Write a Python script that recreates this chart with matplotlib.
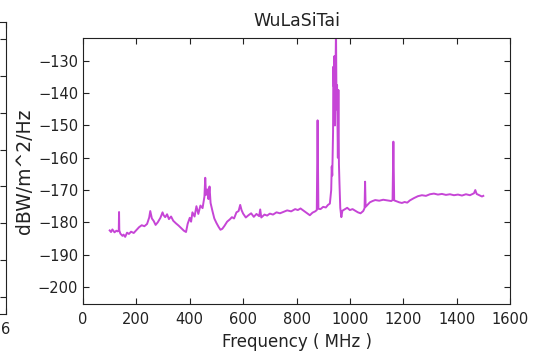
import matplotlib
matplotlib.use("Agg")
import matplotlib.pyplot as plt

# ======================= DATA =================================================
TITLE = "WuLaSiTai"
XLABEL = "Frequency ( MHz )"
YLABEL = "dBW/m^2/Hz"

freq_mhz = [
    100, 105, 110, 118, 125, 130, 134, 135, 136, 140, 148, 152, 158, 165, 172,
    180, 190, 200, 210, 220, 230, 240, 248, 252, 258, 265, 272, 280, 290, 298,
    302, 308, 315, 322, 330, 338, 348, 358, 368, 378, 386, 392, 400, 405, 410,
    418, 425, 432, 440, 448, 455, 458, 461, 466, 470, 474, 478, 485, 492, 500,
    508, 515, 522, 530, 540, 550, 558, 566, 575, 583, 589, 594, 600, 610, 620,
    630, 640, 650, 660, 664, 668, 680, 690, 700, 712, 725, 738, 750, 765, 780,
    795, 805, 815, 828, 840, 850, 860, 870, 876, 879, 882, 890, 900, 910, 918,
    925, 930, 932, 934, 937, 938, 940, 942, 944, 946, 948, 950, 952, 955, 957,
    959, 961, 964, 968, 972, 980, 990, 1000, 1010, 1020, 1030, 1040, 1050, 1055,
    1057, 1059, 1066, 1075, 1085, 1095, 1110, 1125, 1140, 1155, 1160, 1163,
    1166, 1175, 1185, 1195, 1205, 1215, 1225, 1240, 1255, 1270, 1285, 1300,
    1315, 1330, 1345, 1360, 1375, 1390, 1405, 1420, 1435, 1450, 1465, 1470,
    1475, 1485, 1495, 1500,
]

power_dbw = [
    -182.5, -183.0, -182.2, -183.1, -182.6, -182.8, -182.4, -176.8, -182.5, -183.5,
    -184.2, -183.8, -184.5, -183.2, -183.6, -182.9, -183.3, -182.4, -181.5, -180.9,
    -181.2, -180.5, -178.5, -176.5, -178.8, -179.6, -180.8, -180.0, -178.6, -176.9,
    -177.8, -178.4, -177.5, -179.0, -178.2, -179.5, -180.3, -181.0, -181.8, -182.6,
    -183.0, -180.5, -178.6, -179.8, -176.9, -178.2, -175.0, -177.4, -174.8, -175.6,
    -172.0, -166.2, -171.5, -169.8, -172.8, -168.9, -174.0, -176.5, -178.8, -180.2,
    -181.4, -182.3, -182.0, -181.1, -179.8, -179.1, -178.4, -178.8, -176.9, -176.5,
    -174.6, -176.2, -177.3, -178.5, -177.8, -177.2, -178.3, -177.4, -178.1, -176.0,
    -178.5, -177.6, -177.9, -177.3, -177.6, -176.9, -177.2, -176.8, -176.3, -176.6,
    -175.9, -176.2, -175.7, -176.5, -177.2, -177.8, -177.0, -176.6, -176.2, -148.4,
    -175.8, -175.9, -175.2, -175.4, -174.6, -174.2, -170.0, -162.7, -165.5, -152.0,
    -131.8, -138.0, -128.5, -150.0, -135.0, -120.0, -145.0, -137.5, -160.0, -139.0,
    -162.0, -167.9, -175.5, -178.4, -176.4, -176.0, -175.5, -176.2, -175.9, -176.4,
    -176.9, -177.2, -176.5, -175.6, -167.4, -175.2, -174.6, -173.8, -173.4, -173.1,
    -173.3, -173.0, -173.2, -173.4, -173.1, -155.0, -173.2, -173.5, -173.8, -174.0,
    -173.7, -173.9, -173.2, -172.5, -171.9, -171.6, -171.8, -171.3, -171.1, -171.4,
    -171.2, -171.5, -171.3, -171.6, -171.4, -171.7, -171.3, -171.6, -171.0, -170.0,
    -171.2, -171.6, -172.0, -171.8,
]

x_ticks = [0, 200, 400, 600, 800, 1000, 1200, 1400, 1600]
y_ticks = [-200, -190, -180, -170, -160, -150, -140, -130]
# ================================================================

fig = plt.figure(figsize=(5.37, 3.62), dpi=100)

# --- neighbouring panel, only its right edge is visible ---
ax_left = fig.add_axes([-0.6, 0.133, 0.611, 0.806])
ax_left.set_xlim(0, 6)
ax_left.set_xticks(range(7))
ax_left.set_xticklabels([""] * 6 + ["6"])
ax_left.set_ylim(-0.46, 7.46)
ax_left.set_yticks(range(8))
ax_left.set_yticklabels([])
ax_left.tick_params(direction="in", length=4, right=True, top=True,
                    labelsize=10.5, colors="#222222", pad=6)
for s in ax_left.spines.values():
    s.set_color("#222222")

# --- main panel ---
ax = fig.add_axes([0.1546, 0.1602, 0.7951, 0.7348])
ax.plot(freq_mhz, power_dbw, color="#c645d6", linewidth=1.4)

ax.set_xlim(0, 1600)
ax.set_ylim(-205.3, -122.9)
ax.set_xticks(x_ticks)
ax.set_yticks(y_ticks)
ax.tick_params(direction="in", length=4, right=True, top=True,
               labelsize=10.5, colors="#222222")
ax.tick_params(axis="x", pad=6)
for s in ax.spines.values():
    s.set_color("#222222")

ax.set_title(TITLE, fontsize=12.5, color="#222222", pad=9)
ax.set_xlabel(XLABEL, fontsize=12, color="#222222", labelpad=4)
ax.set_ylabel(YLABEL, fontsize=13.5, color="#222222", labelpad=3)

plt.savefig("out.png", dpi=100)
